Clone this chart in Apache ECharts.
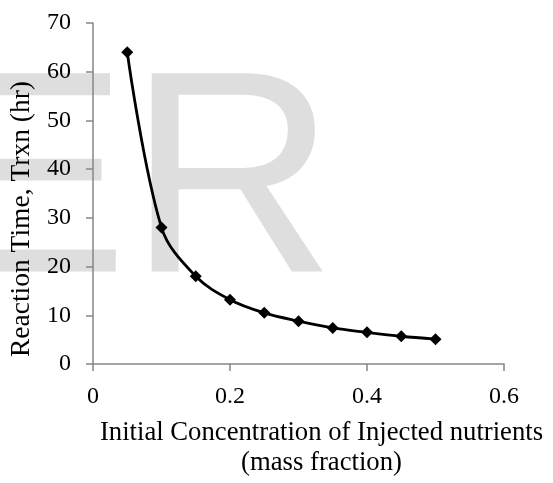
<!DOCTYPE html>
<html>
<head>
<meta charset="utf-8">
<script src="https://cdn.jsdelivr.net/npm/echarts@6/dist/echarts.min.js"></script>
<style>
  html, body { margin: 0; padding: 0; background: #fff; overflow: hidden; }
  #chart { width: 553px; height: 483px; }
</style>
</head>
<body>
<div id="chart"></div>
<script>
// Initial nutrient concentration (mass fraction) vs reaction time (hours)
const concentration = [0.05, 0.10, 0.15, 0.20, 0.25, 0.30, 0.35, 0.40, 0.45, 0.50];
const reactionTime = [64, 28, 18, 13.2, 10.5, 8.8, 7.4, 6.5, 5.7, 5.1];
const xTicks = [0, 0.2, 0.4, 0.6];
const yTicks = [0, 10, 20, 30, 40, 50, 60, 70];

const serif = "'Liberation Serif', 'Times New Roman', serif";
const axisGray = '#868686';

const chart = echarts.init(document.getElementById('chart'), null, { width: 553, height: 483 });
chart.setOption({
  backgroundColor: '#ffffff',
  animation: false,
  grid: { left: 93, top: 23, width: 411, height: 346, containLabel: false },
  graphic: [{
    // light background lettering behind the plot
    type: 'text',
    z: -10,
    silent: true,
    left: -64,
    top: 48,
    style: {
      text: 'ER',
      font: "288px 'Liberation Sans', Arial, sans-serif",
      fill: '#dedede'
    }
  }],
  xAxis: {
    type: 'value',
    min: xTicks[0],
    max: xTicks[xTicks.length - 1],
    interval: 0.2,
    name: 'Initial Concentration of Injected nutrients\n(mass fraction)',
    nameLocation: 'middle',
    nameGap: 54,
    nameTextStyle: {
      fontFamily: serif, fontSize: 26.7, color: '#000', lineHeight: 30,
      padding: [0, 0, 0, 46]
    },
    axisLine: { show: true, onZero: false, lineStyle: { color: axisGray, width: 1.5 } },
    axisTick: { show: true, inside: false, length: 7, lineStyle: { color: axisGray, width: 1.5 } },
    axisLabel: { fontFamily: serif, fontSize: 24, color: '#000', margin: 21 },
    splitLine: { show: false }
  },
  yAxis: {
    type: 'value',
    min: yTicks[0],
    max: yTicks[yTicks.length - 1],
    interval: 10,
    name: 'Reaction Time, Trxn (hr)',
    nameLocation: 'middle',
    nameGap: 52,
    nameRotate: 90,
    nameTextStyle: {
      fontFamily: serif, fontSize: 27.5, color: '#000',
      padding: [0, 51, 0, 0]
    },
    axisLine: { show: true, lineStyle: { color: axisGray, width: 1.5 } },
    axisTick: { show: true, inside: false, length: 7, lineStyle: { color: axisGray, width: 1.5 } },
    axisLabel: { fontFamily: serif, fontSize: 24, color: '#000', margin: 22 },
    splitLine: { show: false }
  },
  series: [{
    type: 'line',
    data: concentration.map((x, i) => [x, reactionTime[i]]),
    smooth: 0.35,
    symbol: 'path://M0,-1L1,0L0,1L-1,0Z',
    symbolSize: 12,
    showSymbol: true,
    lineStyle: { color: '#000', width: 2.8 },
    itemStyle: { color: '#000' },
    z: 5
  }]
});
</script>
</body>
</html>
